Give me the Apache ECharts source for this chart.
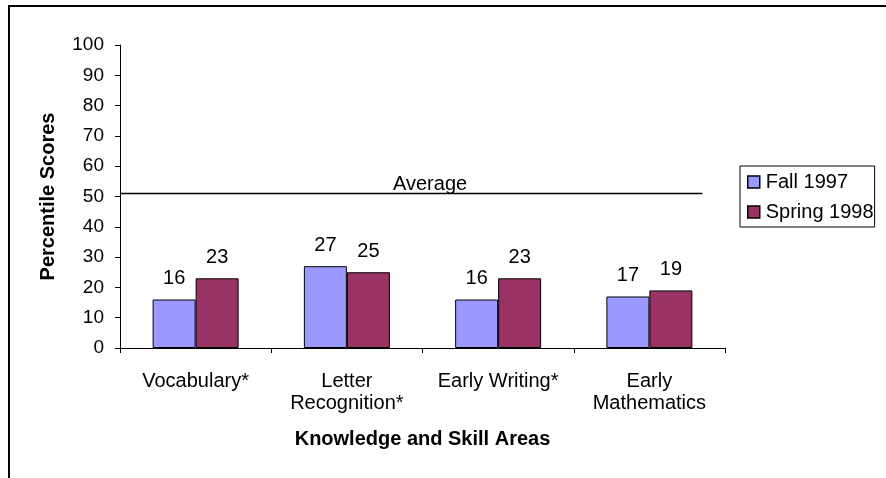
<!DOCTYPE html>
<html><head><meta charset="utf-8">
<script src="https://cdn.jsdelivr.net/npm/echarts@6/dist/echarts.min.js"></script>
<style>html,body{margin:0;padding:0;background:#fff}#c{width:886px;height:478px}</style>
</head><body><div id="c"></div>
<script>
const categories = ['Vocabulary*', 'Letter\nRecognition*', 'Early Writing*', 'Early\nMathematics'];
const fall1997 = [16, 27, 16, 17];
const spring1998 = [23, 25, 23, 19];
const averageValue = 51;
const yTicks = [0, 10, 20, 30, 40, 50, 60, 70, 80, 90, 100];

const font = 'Liberation Sans, Arial, sans-serif';
const chart = echarts.init(document.getElementById('c'));
chart.setOption({
  animation: false,
  textStyle: { fontFamily: font },
  graphic: [{
    type: 'polyline', silent: true,
    shape: { points: [[9, 478], [9, 6], [886, 6]] },
    style: { stroke: '#000', lineWidth: 2, fill: null }
  }],
  legend: {
    orient: 'vertical', left: 740, top: 166,
    borderColor: '#000', borderWidth: 1, padding: [6, 1, 5, 7],
    itemWidth: 12, itemHeight: 12, itemGap: 10,
    textStyle: { fontSize: 20, color: '#000', fontFamily: font, padding: [0, 0, 0, 1] },
    data: [
      { name: 'Fall 1997', icon: 'rect', itemStyle: { borderColor: '#000', borderWidth: 1.5 } },
      { name: 'Spring 1998', icon: 'rect', itemStyle: { borderColor: '#000', borderWidth: 1.5 } }
    ]
  },
  grid: { left: 120, right: 161, top: 45, bottom: 130, containLabel: false },
  xAxis: [{
    type: 'category', data: categories,
    name: 'Knowledge and Skill Areas', nameLocation: 'middle', nameGap: 81,
    nameTextStyle: { fontSize: 20, fontWeight: 'bold', color: '#000', fontFamily: font },
    axisLine: { lineStyle: { color: '#000', width: 1 } },
    axisTick: { show: true, length: 5, lineStyle: { color: '#000' } },
    axisLabel: { fontSize: 20, color: '#000', margin: 22, lineHeight: 22, fontFamily: font, interval: 0 }
  }, {
    type: 'value', min: 0, max: 4, show: false
  }],
  yAxis: {
    type: 'value', min: 0, max: 100, interval: 10,
    name: 'Percentile Scores', nameLocation: 'middle', nameGap: 62,
    nameTextStyle: { fontSize: 20, fontWeight: 'bold', color: '#000', fontFamily: font },
    axisLine: { show: true, lineStyle: { color: '#000', width: 1 } },
    axisTick: { show: true, length: 5, lineStyle: { color: '#000' } },
    axisLabel: { fontSize: 19, color: '#000', margin: 16, fontFamily: font,
      formatter: v => yTicks.includes(v) ? String(v) : '' },
    splitLine: { show: false }
  },
  series: [{
    name: 'Fall 1997', type: 'bar', data: fall1997,
    barWidth: 43, barGap: '0%',
    itemStyle: { color: '#9999FF', borderColor: '#000', borderWidth: 1 },
    label: { show: true, position: 'top', distance: 11, fontSize: 20, color: '#000', fontFamily: font }
  }, {
    name: 'Spring 1998', type: 'bar', data: spring1998,
    barWidth: 43,
    itemStyle: { color: '#993366', borderColor: '#000', borderWidth: 1 },
    label: { show: true, position: 'top', distance: 11, fontSize: 20, color: '#000', fontFamily: font }
  }, {
    name: 'Average', type: 'line', xAxisIndex: 1, yAxisIndex: 0,
    data: [[0, averageValue], { value: [2.05, averageValue], label: { show: true } }, [3.85, averageValue]],
    symbol: 'circle', symbolSize: 0, showSymbol: true,
    lineStyle: { color: '#000', width: 1.5 },
    label: { show: false, position: 'top', distance: -1, formatter: 'Average', fontSize: 20, color: '#000', fontFamily: font },
    silent: true
  }]
});
</script></body></html>
